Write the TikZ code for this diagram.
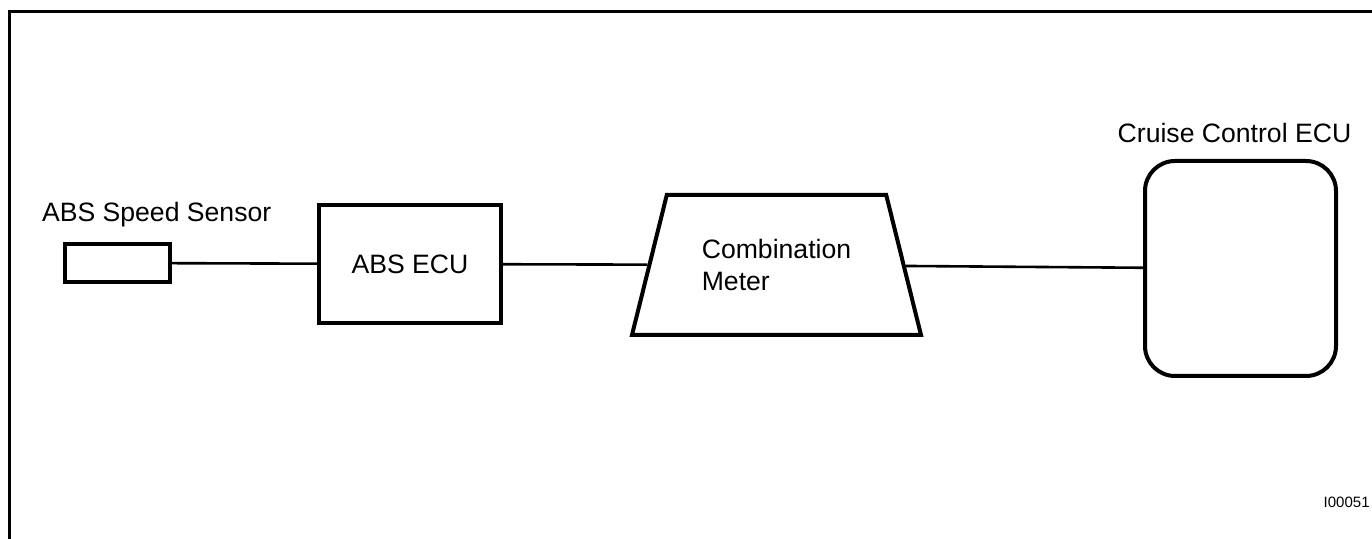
\documentclass[tikz,border=0pt]{standalone}
\usepackage{fontspec}
\setmainfont{Liberation Sans}
\usetikzlibrary{positioning,shapes.geometric}

\begin{document}
\begin{tikzpicture}[x=0.5pt, y=-0.5pt,
    every node/.style={font=\fontsize{13.3}{16}\selectfont},
    part/.style={draw, line width=2pt, inner sep=0pt},
    wire/.style={line width=1.3pt},
    frame/.style={line width=1.3pt}]
  \useasboundingbox (0,0) rectangle (1372,539);
  % frame
  \draw[frame] (9.5,545) |- (1380,11.5);

  % parts
  \node[part, minimum width=52.5pt, minimum height=19pt] (sensor) at (117.5,263) {};
  \node[anchor=base west] (sensorlbl) at (35,222) {ABS Speed Sensor};
  \node[part, minimum width=91pt, minimum height=59pt] (absecu) at (410,264) {ABS ECU};
  \node[part, trapezium, trapezium angle=76, trapezium stretches body=true,
        inner ysep=22pt, minimum width=144.5pt, minimum height=70pt, align=left] (meter) at (776.5,265)
        {Combination\\Meter};
  \node[part, rounded corners=15pt, minimum width=95.5pt, minimum height=107.5pt] (cruise) at (1240.5,268.5) {};
  \node[anchor=base] (cruiselbl) at (1234.5,143) {Cruise Control ECU};
  \node[anchor=base east, inner sep=0pt, font=\fontsize{7.5}{9}\selectfont] (figno) at (1370,508) {I00051};

  % wiring
  \draw[wire] (sensor) -- (absecu);
  \draw[wire] (absecu) -- (meter);
  \draw[wire] (meter) -- (cruise);
\end{tikzpicture}
\end{document}
